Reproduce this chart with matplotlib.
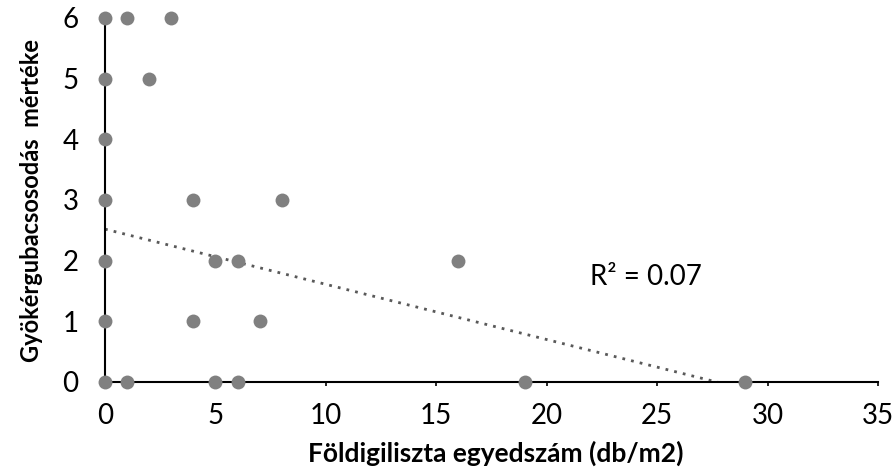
import matplotlib
matplotlib.use("Agg")
import matplotlib.pyplot as plt
import numpy as np

# Data
x_vals = [0, 1, 3, 0, 2, 0, 0, 4, 8, 0, 5, 6, 16, 0, 4, 7, 0, 1, 5, 6, 19, 29]
y_vals = [6, 6, 6, 5, 5, 4, 3, 3, 3, 2, 2, 2, 2, 1, 1, 1, 0, 0, 0, 0, 0, 0]
trend_intercept = 2.52
trend_slope = -0.091
r2_label = "R² = 0.07"
x_ticks = [0, 5, 10, 15, 20, 25, 30, 35]
y_ticks = [0, 1, 2, 3, 4, 5, 6]
x_label = "Földigiliszta egyedszám (db/m2)"
y_label = "Gyökérgubacsosodás  mértéke"

plt.rcParams['font.family'] = ['Lato', 'DejaVu Sans']

fig = plt.figure(figsize=(8.93, 4.72), dpi=100)
ax = fig.add_axes([105/893, 1-382/472, (878-105)/893, (382-18)/472])

tx = np.array([0, max(x_vals)])
ax.plot(tx, trend_intercept + trend_slope*tx, linestyle=(0, (1, 2.2)), color='#595959',
        linewidth=2.0, zorder=2)
ax.scatter(x_vals, y_vals, s=100, color='#808080', zorder=3, clip_on=False, linewidths=0)

ax.set_xlim(0, 35)
ax.set_ylim(0, 6)
ax.set_xticks(x_ticks)
ax.set_yticks(y_ticks)
for s in ['top', 'right']:
    ax.spines[s].set_visible(False)
for s in ['left', 'bottom']:
    ax.spines[s].set_linewidth(1.5)
    ax.spines[s].set_color('black')
ax.tick_params(axis='both', length=3, width=1.2, labelsize=20, colors='black')
ax.tick_params(axis='x', pad=12)
ax.tick_params(axis='y', pad=16)

ax.text(21.96, 1.73, r2_label, fontsize=20, va='center', ha='left')

ax.set_xlabel(x_label, fontsize=19, fontweight='bold')
ax.xaxis.set_label_coords((496-105)/773, (382-441)/364)
ax.xaxis.label.set_va('top')
ax.set_ylabel(y_label, fontsize=17, fontweight='bold', labelpad=14)

fig.savefig("out.png", dpi=100)
